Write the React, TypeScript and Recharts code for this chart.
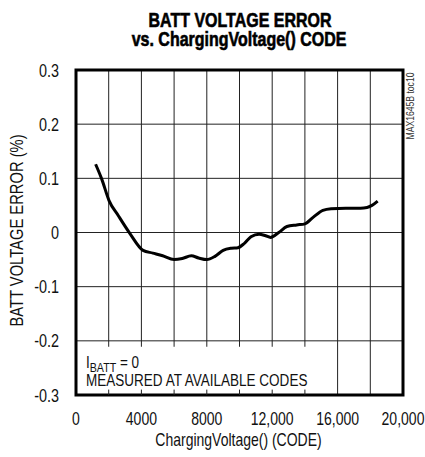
import {
  LineChart,
  Line,
  XAxis,
  YAxis,
  CartesianGrid,
  ReferenceArea,
  ReferenceLine,
} from 'recharts'

// ChargingVoltage() code vs. battery voltage error (%)
const codes = [
  1200, 1570, 2020, 2590, 3300, 4100, 4700, 5300, 6000, 6500, 7050, 7500,
  8000, 8500, 9000, 9500, 9900, 10300, 10700, 11200, 11600, 11900, 12400,
  12900, 13500, 14000, 14500, 15100, 15600, 16500, 17400, 17800, 18100, 18450,
]
const errors = [
  0.126, 0.099, 0.059, 0.031, -0.002, -0.033, -0.038, -0.043, -0.05, -0.048,
  -0.043, -0.047, -0.05, -0.044, -0.033, -0.029, -0.028, -0.02, -0.008,
  -0.003, -0.006, -0.009, 0.0, 0.011, 0.014, 0.016, 0.028, 0.041, 0.044,
  0.045, 0.045, 0.046, 0.05, 0.058,
]

const xTicks = [0, 2000, 4000, 6000, 8000, 10000, 12000, 14000, 16000, 18000, 20000]
const yTicks = [-0.3, -0.2, -0.1, 0, 0.1, 0.2, 0.3]
// short inward ticks along the bottom edge, inside the note box
const boxTicks = [2000, 4000, 6000, 8000, 10000, 12000, 14000]

const data = codes.map((c, i) => ({ code: c, err: errors[i] }))

// no narrow Helvetica available, so squeeze Liberation Sans horizontally
const FONT = "'Liberation Sans', Arial, sans-serif"
const SQUEEZE = 0.82

function NText({
  x,
  y,
  anchor = 'start',
  size = 17,
  weight = 400,
  rotate = 0,
  squeeze = SQUEEZE,
  fill = '#111',
  stroke,
  children,
}: any) {
  return (
    <g transform={`translate(${x},${y}) rotate(${rotate}) scale(${squeeze},1)`}>
      <text
        x={0}
        y={0}
        textAnchor={anchor}
        fontFamily={FONT}
        fontSize={size}
        fontWeight={weight}
        fill={fill}
        stroke={stroke}
        strokeWidth={stroke ? 0.6 : undefined}
      >
        {children}
      </text>
    </g>
  )
}

function fmtX(v: number) {
  if (v % 4000 !== 0) return ''
  return v >= 10000 ? v.toLocaleString('en-US') : String(v)
}

function fmtY(v: number) {
  if (Math.abs(v) < 1e-9) return '0'
  return v.toFixed(1)
}

function XTick({ x, y, payload }: any) {
  const s = fmtX(payload.value)
  if (!s) return null
  return (
    <NText x={x} y={y + 13} anchor="middle" size={18} squeeze={0.78}>
      {s}
    </NText>
  )
}

function YTick({ x, y, payload }: any) {
  return (
    <NText x={x} y={y + 6.5} anchor="end" size={18} squeeze={0.8}>
      {fmtY(payload.value)}
    </NText>
  )
}

function XLabel({ viewBox }: any) {
  return (
    <NText x={viewBox.x + viewBox.width / 2 - 1} y={446} anchor="middle" size={17.5} squeeze={0.8}>
      ChargingVoltage() (CODE)
    </NText>
  )
}

function YLabel({ viewBox }: any) {
  return (
    <NText
      x={viewBox.x + 23}
      y={viewBox.y + viewBox.height / 2 - 2}
      anchor="middle"
      rotate={-90}
      size={18}
    >
      BATT VOLTAGE ERROR (%)
    </NText>
  )
}

function NoteLabel({ viewBox }: any) {
  const x = viewBox.x + 10
  return (
    <g transform={`translate(${x},${viewBox.y}) scale(${SQUEEZE},1)`}>
      <text fontFamily={FONT} fontSize={16.5} fill="#111">
        <tspan x={0} y={21}>I</tspan>
        <tspan dy={4} fontSize={13}>BATT</tspan>
        <tspan dy={-4}> = 0</tspan>
        <tspan x={0} y={39}>MEASURED AT AVAILABLE CODES</tspan>
      </text>
    </g>
  )
}

function PartLabel({ viewBox }: any) {
  return (
    <NText
      x={viewBox.x + viewBox.width + 11}
      y={viewBox.y + 36}
      anchor="middle"
      rotate={-90}
      size={10.5}
      fill="#333"
    >
      MAX1645B toc10
    </NText>
  )
}

export default function App() {
  return (
    <div style={{ position: 'absolute', left: 0, top: 0, width: 425, height: 457, background: '#fff' }}>
      <LineChart
        width={425}
        height={457}
        data={data}
        margin={{ top: 70, right: 22, bottom: 0, left: 0 }}
      >
        <CartesianGrid stroke="#222" strokeWidth={1} />
        <XAxis
          dataKey="code"
          type="number"
          domain={[0, 20000]}
          ticks={xTicks}
          height={62}
          axisLine={false}
          tickLine={false}
          tickSize={0}
          tickMargin={17}
          interval={0}
          tick={<XTick />}
          label={<XLabel />}
        />
        <YAxis
          type="number"
          domain={[-0.3, 0.3]}
          ticks={yTicks}
          width={76}
          axisLine={false}
          tickLine={false}
          tickSize={0}
          tickMargin={17}
          interval={0}
          tick={<YTick />}
          label={<YLabel />}
        />
        <ReferenceArea
          x1={0}
          x2={15950}
          y1={-0.3}
          y2={-0.211}
          fill="#fff"
          fillOpacity={1}
          stroke="none"
          label={<NoteLabel />}
        />
        {boxTicks.map((t) => (
          <ReferenceLine
            key={`bt-${t}`}
            segment={[
              { x: t, y: -0.3 },
              { x: t, y: -0.29 },
            ]}
            stroke="#222"
            strokeWidth={1}
          />
        ))}
        <Line
          type="monotone"
          dataKey="err"
          stroke="#000"
          strokeWidth={3}
          dot={false}
          isAnimationActive={false}
        />
        <ReferenceArea
          x1={0}
          x2={20000}
          y1={-0.3}
          y2={0.3}
          fill="none"
          stroke="#000"
          strokeWidth={3}
          label={<PartLabel />}
        />
      </LineChart>
      <svg
        width={425}
        height={60}
        style={{ position: 'absolute', left: 0, top: 0, pointerEvents: 'none' }}
      >
        <NText x={240} y={27} anchor="middle" size={19.5} weight={700} fill="#000" stroke="#000">
          BATT VOLTAGE ERROR
        </NText>
        <NText x={239} y={46} anchor="middle" size={19.5} weight={700} fill="#000" stroke="#000">
          vs. ChargingVoltage() CODE
        </NText>
      </svg>
    </div>
  )
}
